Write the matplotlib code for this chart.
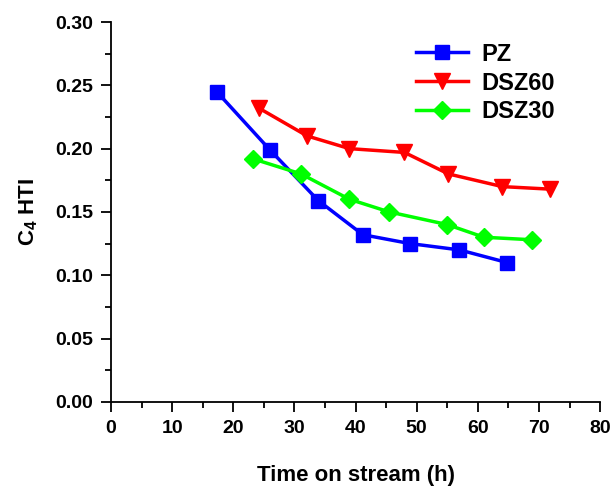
import matplotlib
matplotlib.use("Agg")
import matplotlib.pyplot as plt
from matplotlib.ticker import MultipleLocator

plt.rcParams['font.family'] = ['Liberation Sans', 'DejaVu Sans']
plt.rcParams['font.weight'] = 'bold'

pz_x = [17.3, 26.0, 33.9, 41.2, 48.9, 57.0, 64.8]
pz_y = [0.245, 0.199, 0.159, 0.132, 0.125, 0.120, 0.110]

dsz60_x = [24.2, 32.1, 39.0, 48.0, 55.2, 64.0, 71.8]
dsz60_y = [0.232, 0.210, 0.200, 0.197, 0.180, 0.170, 0.168]

dsz30_x = [23.2, 31.1, 39.0, 45.5, 55.0, 61.0, 68.9]
dsz30_y = [0.192, 0.180, 0.160, 0.150, 0.140, 0.130, 0.128]

fig = plt.figure(figsize=(6.13, 4.9), dpi=100)
ax = fig.add_axes([0.181, 0.18, 0.798, 0.775])

ax.plot(pz_x, pz_y, color='#0000ff', marker='s', markersize=10, linewidth=2.5, label='PZ')
ax.plot(dsz60_x, dsz60_y, color='#ff0000', marker='v', markersize=11, linewidth=2.5, label='DSZ60')
ax.plot(dsz30_x, dsz30_y, color='#00ff00', marker='D', markersize=9.5, linewidth=2.5, label='DSZ30')

ax.set_xlim(0, 80)
ax.set_ylim(0, 0.30)
ax.xaxis.set_major_locator(MultipleLocator(10))
ax.xaxis.set_minor_locator(MultipleLocator(5))
ax.yaxis.set_major_locator(MultipleLocator(0.05))
ax.yaxis.set_minor_locator(MultipleLocator(0.025))
ax.yaxis.set_major_formatter(matplotlib.ticker.FormatStrFormatter('%.2f'))

for s in ['top', 'right']:
    ax.spines[s].set_visible(False)
for s in ['left', 'bottom']:
    ax.spines[s].set_linewidth(1.3)

ax.tick_params(which='major', direction='out', length=7, width=1.3, labelsize=14, pad=6)
ax.tick_params(which='minor', direction='out', length=4, width=1.3)

ax.set_xlabel('Time on stream (h)', fontsize=16, fontweight='bold', labelpad=20)
ax.set_ylabel('C$_\\mathregular{4}$ HTI', fontsize=16, fontweight='bold', labelpad=11)

ax.legend(loc='upper left', bbox_to_anchor=(0.679, 0.913), bbox_transform=fig.transFigure,
          frameon=False, borderpad=0, borderaxespad=0,
          fontsize=17, handlelength=2.2, labelspacing=0.25, handletextpad=0.55)

fig.savefig('out.png', dpi=100)
